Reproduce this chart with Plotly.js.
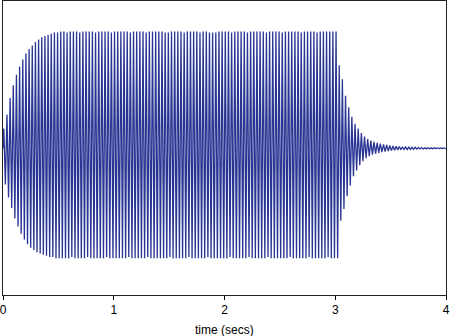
<!DOCTYPE html>
<html>
<head>
<meta charset="utf-8">
<script src="https://cdn.plot.ly/plotly-3.0.1.min.js"></script>
<style>html,body{margin:0;padding:0;background:#fff;}#chart{width:450px;height:336px;}</style>
</head>
<body>
<div id="chart"></div>
<script>
// Oscillation: one upper and one lower peak per cycle
const cyclesPerSec = 35;
const riseTop = [0.17,0.29,0.43,0.54,0.63,0.70,0.76,0.81,0.85,0.88,0.91,0.93,0.95,0.96,0.97,0.98,0.99,0.99];
const riseBottom = [-0.31,-0.42,-0.51,-0.60,-0.67,-0.73,-0.78,-0.82,-0.85,-0.87,-0.89,-0.90,-0.91,-0.92,-0.93,-0.93,-0.94,-0.94];
const steadyTop = [1.00,1.00,0.99,1.00,1.00,1.00,0.99,1.00,1.00,1.00,1.00,0.99,1.00,1.00,1.00,1.00,0.99,1.00,1.00,1.00,
  1.00,1.00,0.99,1.00,1.00,1.00,1.00,0.99,1.00,1.00,1.00,1.00,1.00,0.99,0.99,1.00,1.00,1.00,1.00,0.99,
  1.00,1.00,1.00,1.00,0.99,1.00,1.00,0.99,0.99,0.99,1.00,1.00,1.00,1.00,0.99,1.00,1.00,1.00,1.00,0.99,
  1.00,1.00,1.00,1.00,1.00,0.99,1.00,1.00,1.00,1.00,0.99,1.00,1.00,1.00,1.00,1.00,0.99,1.00,1.00,1.00,
  1.00,0.99,1.00,1.00,1.00,1.00,1.00,1.00];
const steadyBottom = [-0.94,-0.94,-0.94,-0.93,-0.94,-0.94,-0.94,-0.94,-0.93,-0.94,-0.94,-0.94,-0.94,-0.94,-0.93,-0.94,-0.94,-0.94,-0.94,-0.94,
  -0.94,-0.93,-0.94,-0.94,-0.94,-0.94,-0.94,-0.93,-0.94,-0.94,-0.94,-0.94,-0.94,-0.94,-0.93,-0.94,-0.94,-0.94,-0.94,-0.94,
  -0.93,-0.94,-0.94,-0.94,-0.94,-0.94,-0.93,-0.94,-0.94,-0.94,-0.94,-0.94,-0.94,-0.93,-0.94,-0.94,-0.94,-0.94,-0.94,-0.93,
  -0.94,-0.94,-0.94,-0.94,-0.94,-0.93,-0.94,-0.94,-0.94,-0.94,-0.94,-0.94,-0.93,-0.94,-0.94,-0.94,-0.94,-0.94,-0.93,-0.94,
  -0.94,-0.94,-0.94,-0.94,-0.93,-0.94,-0.94,-0.94];
const decayTop = [0.71,0.59,0.45,0.35,0.27,0.21,0.17,0.13,0.10,0.08,0.065,0.055,0.046,0.039,0.033,0.028,0.024,0.020,0.017,0.015,
  0.013,0.011,0.010,0.009,0.008,0.007,0.006,0.005,0.005,0.004,0.004,0.003,0.003,0.003];
const decayBottom = [-0.62,-0.52,-0.41,-0.32,-0.24,-0.19,-0.145,-0.11,-0.085,-0.068,-0.055,-0.046,-0.039,-0.033,-0.028,-0.024,-0.020,-0.017,-0.015,-0.013,
  -0.011,-0.010,-0.009,-0.008,-0.007,-0.006,-0.005,-0.005,-0.004,-0.004,-0.003,-0.003,-0.003,-0.002];
const xTickVals = [0,1,2,3,4];
const xTickText = ['0','1','2','3','4'];
const xLabel = 'time (secs)';

const tops = riseTop.concat(steadyTop, decayTop);
const bottoms = riseBottom.concat(steadyBottom, decayBottom);
const xs = [0], ys = [0];
for (let k = 0; k < tops.length; k++) {
  xs.push((k + 0.25) / cyclesPerSec); ys.push(tops[k]);
  xs.push((k + 0.75) / cyclesPerSec); ys.push(bottoms[k]);
}
xs.push(4); ys.push(0);

const trace = {x: xs, y: ys, type: 'scatter', mode: 'lines',
  line: {color: '#283593', width: 1.3}, hoverinfo: 'none'};

const layout = {
  width: 450, height: 336,
  margin: {l: 3, r: 4, t: 1, b: 41},
  paper_bgcolor: '#fff', plot_bgcolor: '#fff',
  showlegend: false,
  font: {family: 'Liberation Sans, Arial, sans-serif', size: 12, color: '#000'},
  xaxis: {range: [0, 4], tickvals: xTickVals, ticktext: xTickText, ticklabeloverflow: 'allow',
    ticks: 'outside', ticklen: 4, tickcolor: '#000', showgrid: false, zeroline: false,
    showline: true, mirror: true, linecolor: '#222', linewidth: 1, automargin: false},
  yaxis: {range: [-1.255, 1.26], showticklabels: false, ticks: '', showgrid: false, zeroline: false,
    showline: true, mirror: true, linecolor: '#222', linewidth: 1, automargin: false},
  annotations: [{text: xLabel, xref: 'paper', yref: 'paper', x: 0.5, y: -0.12,
    xanchor: 'center', yanchor: 'middle', showarrow: false, font: {size: 12, color: '#000'}}]
};
Plotly.newPlot('chart', [trace], layout, {staticPlot: true, displayModeBar: false});
</script>
</body>
</html>
